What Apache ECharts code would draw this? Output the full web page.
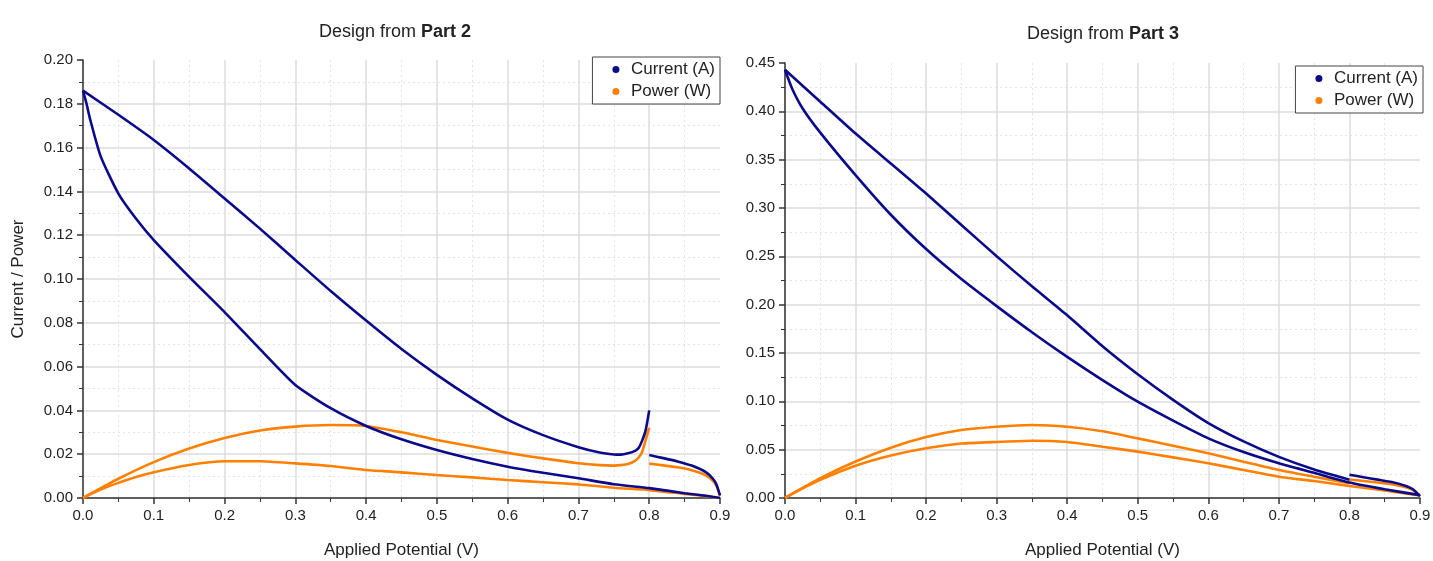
<!DOCTYPE html>
<html>
<head>
<meta charset="utf-8">
<script src="https://cdn.jsdelivr.net/npm/echarts@6/dist/echarts.min.js"></script>
<style>
  html, body { margin: 0; padding: 0; background: #fff; }
  #main { width: 1433px; height: 561px; }
</style>
</head>
<body>
<div id="main"></div>
<script>
// Part 2 design: reverse sweep (upper branch, with the spike at 0.8 V)
const p2UpV = [0, 0.05, 0.1, 0.15, 0.2, 0.25, 0.3, 0.35, 0.4, 0.45, 0.5, 0.55, 0.6, 0.65, 0.7, 0.73, 0.75, 0.76, 0.77, 0.78, 0.785, 0.79, 0.795, 0.8]
const p2UpI = [0.186, 0.175, 0.1635, 0.1505, 0.1368, 0.123, 0.1087, 0.0945, 0.081, 0.068, 0.0562, 0.0455, 0.0358, 0.0287, 0.0232, 0.0208, 0.0199, 0.0198, 0.0204, 0.0215, 0.0228, 0.0262, 0.031, 0.040]
const p2UpP = [0, 0.0088, 0.0164, 0.0226, 0.0274, 0.0308, 0.0326, 0.0333, 0.0329, 0.030, 0.0265, 0.0235, 0.0206, 0.0181, 0.0159, 0.015, 0.0148, 0.015, 0.0155, 0.017, 0.0185, 0.021, 0.0265, 0.032]
// Part 2: 0.8 - 0.9 V segment after the jump
const p2TailV = [0.8, 0.82, 0.84, 0.86, 0.88, 0.89, 0.895, 0.9]
const p2TailI = [0.0196, 0.0182, 0.0167, 0.0148, 0.0118, 0.0088, 0.0062, 0.0012]
const p2TailP = [0.0157, 0.0149, 0.014, 0.0127, 0.0104, 0.0078, 0.0055, 0.001]
// Part 2: forward sweep (lower branch)
const p2LoV = [0, 0.005, 0.01, 0.025, 0.05, 0.075, 0.1, 0.15, 0.2, 0.25, 0.3, 0.35, 0.4, 0.45, 0.5, 0.55, 0.6, 0.65, 0.7, 0.75, 0.8, 0.85, 0.88, 0.9]
const p2LoI = [0.186, 0.180, 0.173, 0.156, 0.139, 0.1275, 0.1178, 0.101, 0.0849, 0.068, 0.0516, 0.041, 0.0329, 0.0268, 0.0219, 0.0178, 0.0143, 0.0115, 0.009, 0.0063, 0.0045, 0.0022, 0.001, 0]
const p2LoP = [0, 0.0009, 0.0017, 0.0039, 0.0069, 0.0096, 0.0118, 0.0151, 0.0168, 0.0168, 0.0158, 0.0146, 0.0128, 0.0117, 0.0105, 0.0094, 0.0082, 0.0072, 0.0062, 0.0047, 0.0036, 0.0019, 0.0009, 0]

// Part 3 design
const p3UpV = [0, 0.05, 0.1, 0.15, 0.2, 0.25, 0.3, 0.35, 0.4, 0.45, 0.5, 0.55, 0.6, 0.65, 0.7, 0.75, 0.8]
const p3UpI = [0.443, 0.41, 0.377, 0.346, 0.315, 0.2825, 0.25, 0.219, 0.189, 0.157, 0.128, 0.1015, 0.0775, 0.0585, 0.0425, 0.0295, 0.019]
const p3UpP = [0, 0.0205, 0.0377, 0.052, 0.063, 0.0703, 0.0737, 0.0755, 0.0737, 0.069, 0.0617, 0.054, 0.0462, 0.0375, 0.029, 0.022, 0.0152]
const p3TailV = [0.8, 0.82, 0.84, 0.86, 0.88, 0.89, 0.9]
const p3TailI = [0.024, 0.0215, 0.019, 0.0165, 0.0125, 0.009, 0.002]
const p3TailP = [0.0192, 0.0176, 0.016, 0.0142, 0.011, 0.008, 0.0018]
const p3LoV = [0, 0.01, 0.025, 0.05, 0.1, 0.15, 0.2, 0.25, 0.3, 0.35, 0.4, 0.45, 0.5, 0.55, 0.6, 0.65, 0.7, 0.75, 0.8, 0.85, 0.9]
const p3LoI = [0.443, 0.4237, 0.403, 0.378, 0.334, 0.293, 0.2575, 0.2265, 0.1985, 0.1715, 0.146, 0.122, 0.0996, 0.080, 0.0617, 0.0475, 0.0359, 0.026, 0.016, 0.009, 0.003]
const p3LoP = [0, 0.0042, 0.0101, 0.0189, 0.0334, 0.044, 0.0515, 0.0563, 0.058, 0.0593, 0.058, 0.053, 0.048, 0.042, 0.0359, 0.029, 0.022, 0.0175, 0.0125, 0.0077, 0.0027]

const blue = '#0a0a8a'
const orange = '#ff8000'
const font = 'Liberation Sans'

const zip = (xs, ys) => xs.map((x, k) => [x, ys[k]])

function line (name, idx, xs, ys, color) {
  return {
    name: name,
    type: 'line',
    xAxisIndex: idx,
    yAxisIndex: idx,
    data: zip(xs, ys),
    showSymbol: false,
    smooth: 0.2,
    lineStyle: { color: color, width: 2.6 },
    itemStyle: { color: color }
  }
}

function xAxis (idx) {
  return {
    type: 'value',
    gridIndex: idx,
    min: 0,
    max: 0.9,
    interval: 0.1,
    name: 'Applied Potential (V)',
    nameLocation: 'middle',
    nameGap: 44,
    nameTextStyle: { fontSize: 17, color: '#222', fontFamily: font },
    axisLine: { onZero: false, lineStyle: { color: '#333', width: 1.5 } },
    axisTick: { length: 6, lineStyle: { color: '#333', width: 1.5 } },
    minorTick: { show: true, splitNumber: 2, length: 4, lineStyle: { color: '#333' } },
    axisLabel: { fontSize: 15, color: '#222', fontFamily: font, margin: 10, formatter: v => v.toFixed(1) },
    splitLine: { show: true, showMaxLine: false, lineStyle: { color: '#dcdcdc', width: 1.5 } },
    minorSplitLine: { show: true, lineStyle: { color: '#e4e4e4', type: [2, 3] } }
  }
}

function yAxis (idx, max, step) {
  return {
    type: 'value',
    gridIndex: idx,
    min: 0,
    max: max,
    interval: step,
    axisLine: { show: true, onZero: false, lineStyle: { color: '#333', width: 1.5 } },
    axisTick: { show: true, length: 6, lineStyle: { color: '#333', width: 1.5 } },
    minorTick: { show: true, splitNumber: 2, length: 4, lineStyle: { color: '#333' } },
    axisLabel: { fontSize: 15, color: '#222', fontFamily: font, margin: 10, formatter: v => v.toFixed(2) },
    splitLine: { show: true, showMaxLine: false, lineStyle: { color: '#dcdcdc', width: 1.5 } },
    minorSplitLine: { show: true, lineStyle: { color: '#e4e4e4', type: [2, 3] } }
  }
}

function legend (right, top) {
  return {
    right: right,
    top: top,
    orient: 'vertical',
    icon: 'circle',
    itemWidth: 20,
    itemHeight: 7,
    itemGap: 5,
    padding: [4, 5, 4, 20],
    borderColor: '#444',
    borderWidth: 1,
    backgroundColor: '#fff',
    textStyle: { fontSize: 17, color: '#222', fontFamily: font },
    data: ['Current (A)', 'Power (W)']
  }
}

const titleRich = {
  n: { fontSize: 18, color: '#222', fontFamily: font, fontWeight: 'normal' },
  b: { fontSize: 18, color: '#222', fontFamily: font, fontWeight: 'bold' }
}

const myChart = echarts.init(document.getElementById('main'))
const option = {
  animation: false,
  title: [
    { text: '{n|Design from }{b|Part 2}', left: 390, top: 18, textAlign: 'center', textStyle: { fontWeight: 'normal', rich: titleRich } },
    { text: '{n|Design from }{b|Part 3}', left: 1098, top: 20, textAlign: 'center', textStyle: { fontWeight: 'normal', rich: titleRich } }
  ],
  legend: [legend(713, 57), legend(10, 66)],
  grid: [
    { left: 83, right: 713, top: 60, bottom: 63, outerBoundsMode: 'none' },
    { left: 785, right: 13, top: 63, bottom: 63, outerBoundsMode: 'none' }
  ],
  xAxis: [xAxis(0), xAxis(1)],
  yAxis: [
    Object.assign(yAxis(0, 0.2, 0.02), {
      name: 'Current / Power',
      nameLocation: 'middle',
      nameGap: 56,
      nameTextStyle: { fontSize: 17, color: '#222', fontFamily: font }
    }),
    yAxis(1, 0.45, 0.05)
  ],
  series: [
    line('Power (W)', 0, p2LoV, p2LoP, orange),
    line('Power (W)', 0, p2UpV, p2UpP, orange),
    line('Power (W)', 0, p2TailV, p2TailP, orange),
    line('Current (A)', 0, p2LoV, p2LoI, blue),
    line('Current (A)', 0, p2UpV, p2UpI, blue),
    line('Current (A)', 0, p2TailV, p2TailI, blue),
    line('Power (W)', 1, p3LoV, p3LoP, orange),
    line('Power (W)', 1, p3UpV, p3UpP, orange),
    line('Power (W)', 1, p3TailV, p3TailP, orange),
    line('Current (A)', 1, p3LoV, p3LoI, blue),
    line('Current (A)', 1, p3UpV, p3UpI, blue),
    line('Current (A)', 1, p3TailV, p3TailI, blue)
  ]
}
myChart.setOption(option)
</script>
</body>
</html>
